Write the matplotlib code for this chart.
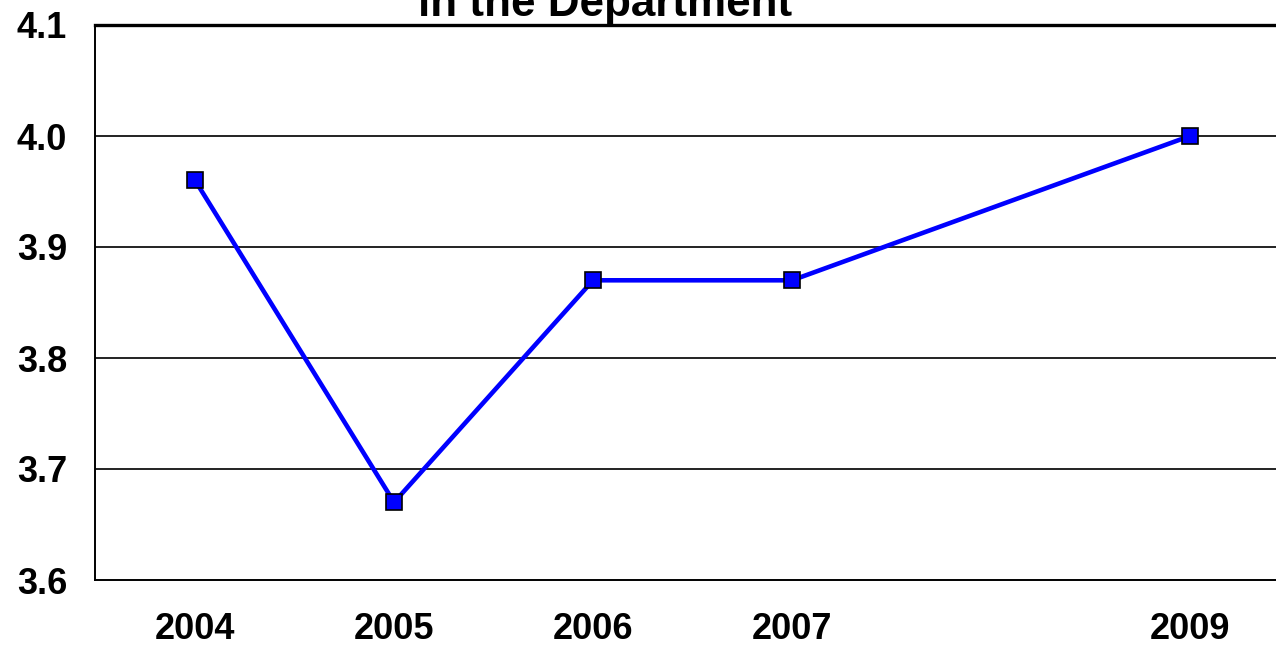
import matplotlib
matplotlib.use("Agg")
import matplotlib.pyplot as plt

plt.rcParams['font.family'] = ['Liberation Sans', 'DejaVu Sans']

years = [2004, 2005, 2006, 2007, 2009]
values = [3.96, 3.67, 3.87, 3.87, 4.00]
y_ticks = [3.6, 3.7, 3.8, 3.9, 4.0, 4.1]
title = "in the Department"

W, H = 1276, 647
fig = plt.figure(figsize=(W / 100, H / 100), dpi=100)
ax = fig.add_axes([95 / W, (H - 580) / H, (W - 95) / W, (580 - 25) / H])

ax.plot(years, values, color='#0000ff', linewidth=3.3, marker='s', markersize=11,
        markerfacecolor='#0000ff', markeredgecolor='black', markeredgewidth=1.2,
        zorder=3)

ax.set_xlim(2003.497, 2009.432)
ax.set_ylim(3.6, 4.1)
ax.set_xticks(years)
ax.set_xticklabels([str(y) for y in years])
ax.set_yticks(y_ticks)
ax.set_yticklabels([f"{v:.1f}" for v in y_ticks])
ax.tick_params(length=0, labelsize=26)
ax.tick_params(axis='y', pad=20)
ax.tick_params(axis='x', pad=23)
for lab in ax.get_xticklabels() + ax.get_yticklabels():
    lab.set_fontweight('bold')

for v in y_ticks[1:-1]:
    ax.axhline(v, color='#111111', linewidth=1.3, zorder=1)

ax.spines['right'].set_visible(False)
ax.spines['top'].set_linewidth(2.4)
ax.spines['left'].set_linewidth(1.4)
ax.spines['bottom'].set_linewidth(1.4)
for s in ax.spines.values():
    s.set_color('black')

fig.text(605 / W, (H - 16) / H, title, ha='center', va='baseline',
         fontsize=31.7, fontweight='bold')

fig.savefig('out.png', dpi=100)
